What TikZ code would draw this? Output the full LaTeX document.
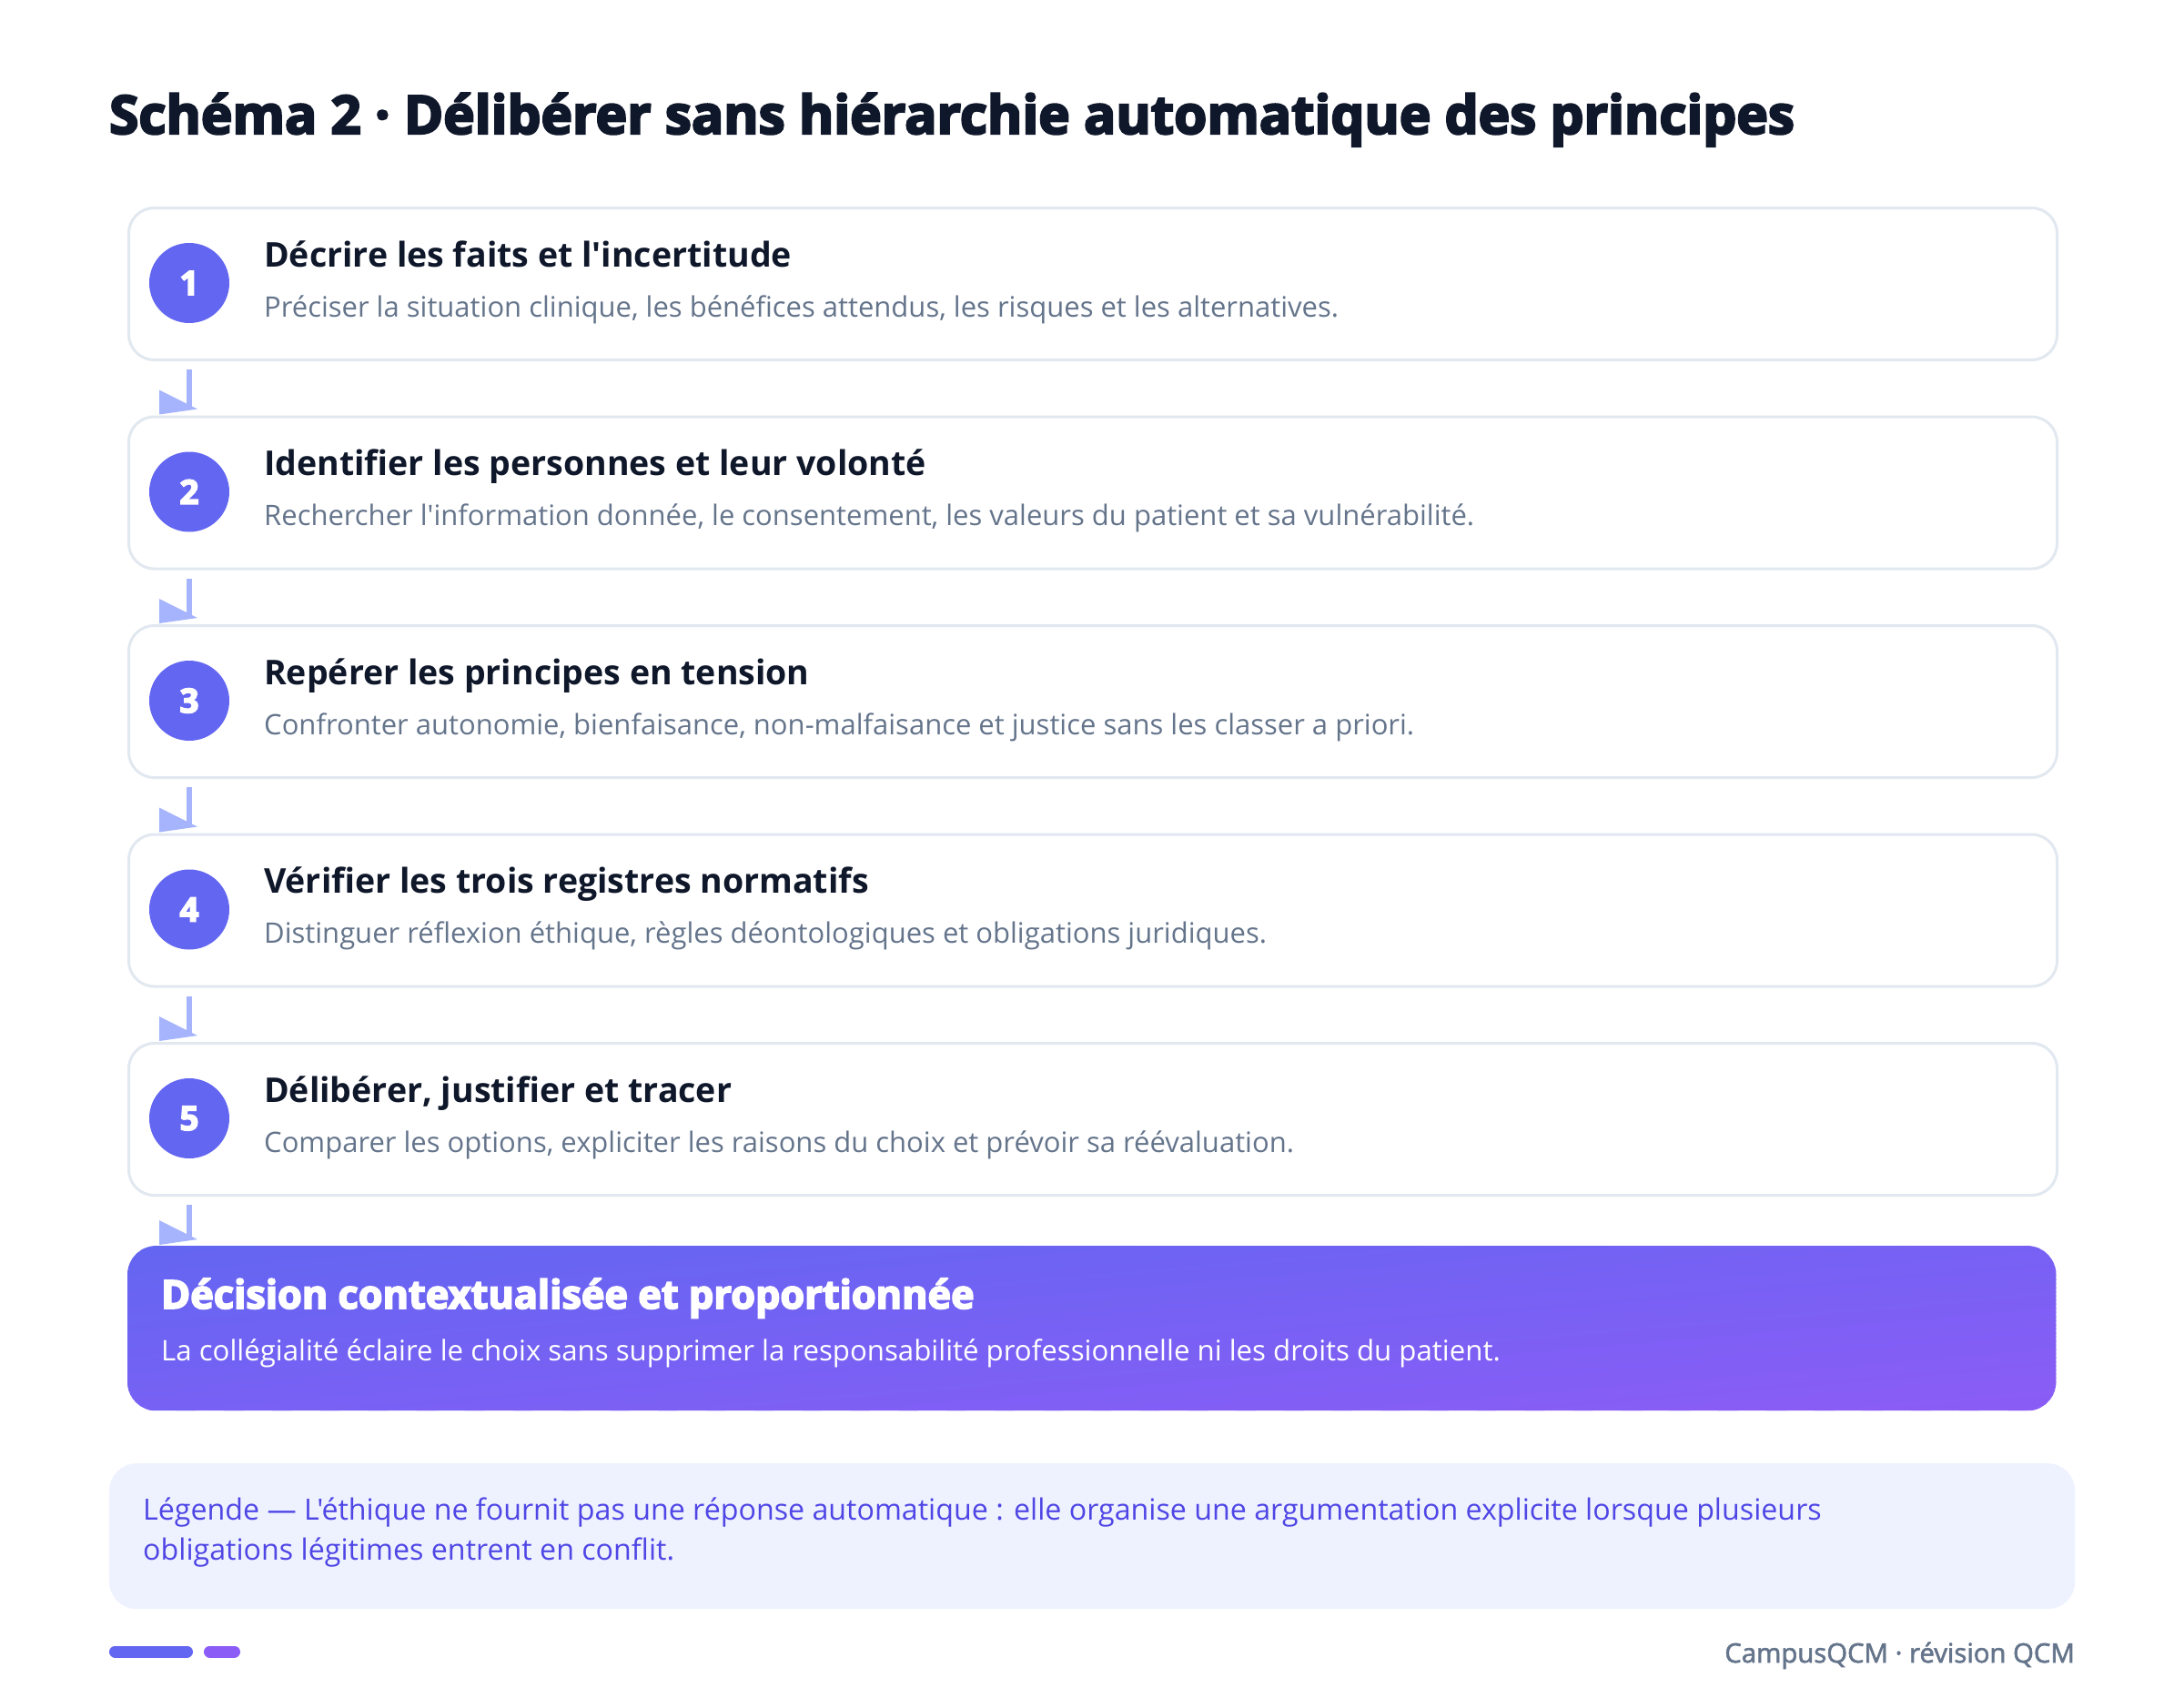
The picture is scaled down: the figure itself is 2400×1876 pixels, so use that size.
\documentclass[tikz,border=0pt]{standalone}
\usepackage{fontspec}
\setmainfont{Open Sans}[Ligatures=TeXOff]
\newfontfamily\heavyfont{Open Sans}[BoldFeatures={FakeBold=4}]
\newfontfamily\semifont{Open Sans}[UprightFeatures={FakeBold=2}]
\usetikzlibrary{calc}
\definecolor{ink}{HTML}{0F172A}
\definecolor{muted}{HTML}{64748B}
\definecolor{border}{HTML}{E2E8F0}
\definecolor{indigo}{HTML}{6366F1}
\definecolor{violet}{HTML}{8B5CF6}
\definecolor{arrowc}{HTML}{A5B4FC}
\definecolor{legbg}{HTML}{EEF2FF}
\definecolor{legtx}{HTML}{4F46E5}
\tikzset{
  stepbox/.style={draw=border, line width=3pt, fill=white, rounded corners=28pt,
    minimum width=2119pt, minimum height=167pt, anchor=north west, inner sep=0pt},
  numcirc/.style={circle, fill=indigo, minimum size=88pt, inner sep=0pt, text=white,
    font=\heavyfont\bfseries\fontsize{37}{40}\selectfont},
  steptitle/.style={anchor=base west, inner sep=0pt, text=ink,
    font=\bfseries\fontsize{37.5}{42}\selectfont},
  stepsub/.style={anchor=base west, inner sep=0pt, text=muted,
    font=\fontsize{31}{36}\selectfont},
  arrowline/.style={draw=arrowc, line width=6pt},
  arrowhead/.style={fill=arrowc},
}
\newcommand{\steparrow}[2]{%
  \draw[arrowline] ($(#1.south west)+(68,9)$) -- ($(#2.north west)+(68,-8)$);
  \fill[arrowhead] ($(#2.north west)+(35,-28)$) -- ($(#2.north west)+(77,-7)$) -- ($(#2.north west)+(35,-1)$) -- cycle;
}
\begin{document}
\begin{tikzpicture}[x=1pt,y=-1pt]
\useasboundingbox (0,0) rectangle (2400,1876);
\fill[white] (0,0) rectangle (2400,1876);

\node[anchor=base west, inner sep=0pt, text=ink, font=\heavyfont\bfseries\fontsize{58.5}{66}\selectfont] (title) at (120,147)
  {Schéma 2 · Délibérer sans hiérarchie automatique des principes};

% steps
\node[stepbox] (s1) at (140,227) {};
\node[stepbox] (s2) at (140,456.5) {};
\node[stepbox] (s3) at (140,686) {};
\node[stepbox] (s4) at (140,915.5) {};
\node[stepbox] (s5) at (140,1145) {};

\foreach \i/\ttl/\sub in {
  1/{Décrire les faits et l'incertitude}/{Préciser la situation clinique, les bénéfices attendus, les risques et les alternatives.},
  2/{Identifier les personnes et leur volonté}/{Rechercher l'information donnée, le consentement, les valeurs du patient et sa vulnérabilité.},
  3/{Repérer les principes en tension}/{Confronter autonomie, bienfaisance, non-malfaisance et justice sans les classer a priori.},
  4/{Vérifier les trois registres normatifs}/{Distinguer réflexion éthique, règles déontologiques et obligations juridiques.},
  5/{Délibérer, justifier et tracer}/{Comparer les options, expliciter les raisons du choix et prévoir sa réévaluation.}}
{
  \node[numcirc] (c\i) at ($(s\i.north west)+(68,84)$) {\i};
  \node[steptitle] (t\i) at ($(s\i.north west)+(150,66)$) {\ttl};
  \node[stepsub] (u\i) at ($(s\i.north west)+(150,121)$) {\sub};
}

% decision box with "to bottom right" gradient
\node[anchor=north west, minimum width=2119pt, minimum height=181pt, inner sep=0pt] (d) at (140,1369) {};
\begin{scope}
  \clip[rounded corners=32pt] (d.north west) rectangle (d.south east);
  \foreach \k in {0,...,79} {
    \pgfmathsetmacro\pa{\k/40}
    \pgfmathsetmacro\pb{(\k+1.4)/40}
    \pgfmathsetmacro\pc{100*(\k+0.5)/80}
    \colorlet{gtmp}{violet!\pc!indigo}
    \fill[gtmp] (140+\pa*2119,1369) -- (140+\pb*2119,1369) -- (140+\pb*2119-2119,1550) -- (140+\pa*2119-2119,1550) -- cycle;
  }
\end{scope}
\node[anchor=base west, inner sep=0pt, text=white, font=\heavyfont\bfseries\fontsize{43.3}{48}\selectfont] (dt) at ($(d.north west)+(37,69)$)
  {Décision contextualisée et proportionnée};
\node[anchor=base west, inner sep=0pt, text=white, font=\fontsize{31.2}{36}\selectfont] (ds) at ($(d.north west)+(37,126)$)
  {La collégialité éclaire le choix sans supprimer la responsabilité professionnelle ni les droits du patient.};

\steparrow{s1}{s2}
\steparrow{s2}{s3}
\steparrow{s3}{s4}
\steparrow{s4}{s5}
\steparrow{s5}{d}

% legend
\node[anchor=north west, minimum width=2160pt, minimum height=160pt, inner sep=0pt,
  rounded corners=30pt, fill=legbg] (lg) at (120,1608) {};
\node[anchor=base west, inner sep=0pt, text=legtx, font=\fontsize{32.2}{38}\selectfont] (l1) at ($(lg.north west)+(37,62)$)
  {Légende — L'éthique ne fournit pas une réponse automatique : elle organise une argumentation explicite lorsque plusieurs};
\node[anchor=base west, inner sep=0pt, text=legtx, font=\fontsize{32.2}{38}\selectfont] (l2) at ($(lg.north west)+(37,106)$)
  {obligations légitimes entrent en conflit.};

% footer
\draw[indigo, line width=13pt, line cap=round] (126.5,1815) -- (205.5,1815);
\draw[violet, line width=13pt, line cap=round] (230.5,1815) -- (257.5,1815);
\node[anchor=base east, inner sep=0pt, text=muted, font=\semifont\fontsize{29.3}{34}\selectfont] (ft) at (2280,1827)
  {CampusQCM · révision QCM};
\end{tikzpicture}
\end{document}
